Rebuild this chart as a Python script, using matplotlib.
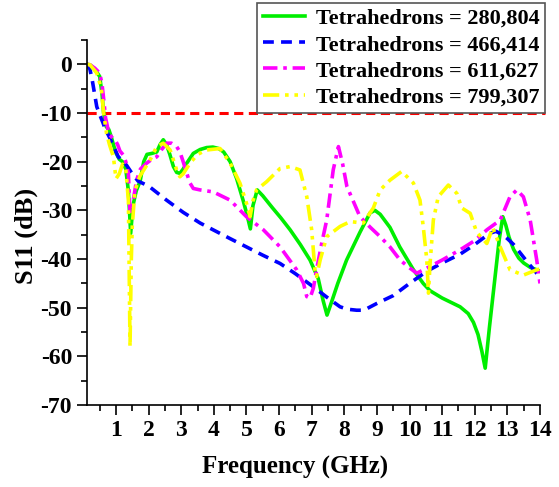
import matplotlib
matplotlib.use("Agg")
import matplotlib.pyplot as plt
from matplotlib.ticker import MultipleLocator

plt.rcParams['font.family'] = ['Liberation Serif', 'DejaVu Serif']
plt.rcParams['font.weight'] = 'bold'
plt.rcParams['axes.unicode_minus'] = False

# S11 curves (frequency in GHz, S11 in dB)
f_280 = [0.1, 0.2, 0.35, 0.5, 0.57, 0.62, 0.7, 0.78, 0.86, 0.92, 1.0, 1.1, 1.2, 1.3, 1.38,
         1.45, 1.52, 1.62, 1.74, 1.85, 1.95, 2.1, 2.25, 2.35, 2.45, 2.55, 2.65, 2.76, 2.86,
         2.96, 3.06, 3.17, 3.37, 3.58, 3.78, 3.97, 4.15, 4.3, 4.5, 4.7, 4.9, 5.02, 5.12, 5.2,
         5.33, 5.5, 5.8, 6.05, 6.34, 6.65, 6.95, 7.2, 7.35, 7.47, 7.6, 7.8, 8.07, 8.48, 8.79,
         8.94, 9.1, 9.4, 9.7, 10.12, 10.42, 10.63, 11.0, 11.55, 11.8, 11.96, 12.1, 12.22,
         12.32, 12.45, 12.6, 12.75, 12.86, 12.95, 13.05, 13.19, 13.35, 13.5, 13.7, 13.9, 14.0]
s_280 = [0, -0.1, -1.0, -2.5, -6, -10, -12.8, -13.4, -15, -16.5, -18.2, -19.5, -20, -21.5, -26,
         -34.7, -29, -26, -24, -20, -18.5, -18.3, -18.0, -16.5, -15.5, -16.5, -18.5, -21, -22.2,
         -22.4, -21.5, -20.3, -18.3, -17.5, -17.1, -17.0, -17.3, -18, -20, -23.5, -28, -31, -33.8, -29,
         -25.8, -27, -29.5, -31.5, -34, -37, -40.2, -44, -48.5, -51.5, -49, -45, -40.2, -34.5, -30.5,
         -30.0, -30.8, -33.5, -37.5, -42.2, -45, -46.5, -48, -49.8, -51.2, -53, -55.5, -59,
         -62.4, -54, -45, -36, -31.3, -33, -35.5, -38, -39.8, -40.8, -41.7, -42.2, -42.5]

f_466 = [0.1, 0.2, 0.27, 0.41, 0.51, 0.6, 0.66, 0.8, 0.92, 1.07, 1.2, 1.33, 1.5, 1.68, 2.0,
         2.55, 3.06, 3.58, 3.98, 4.5, 5.0, 5.5, 6.03, 6.5, 7.05, 7.5, 7.87, 8.1, 8.38, 8.6,
         9.0, 9.5, 10.0, 10.53, 11.0, 11.55, 12.0, 12.46, 12.65, 12.85, 13.0, 13.19, 13.4,
         13.6, 13.9, 14.0]
s_466 = [0, -1, -3.2, -8.7, -10.5, -12, -13.1, -15, -16.8, -19, -19.8, -20.8, -22.5, -24, -25,
         -27.9, -30.4, -32.6, -34, -35.8, -37.5, -39.2, -40.9, -43, -45.7, -48, -49.8, -50.3, -50.5, -50.5,
         -49.1, -47.5, -45, -42.5, -40.8, -39, -37, -34.7, -34.3, -35, -35.8, -37, -38.8,
         -40.5, -42.9, -43.4]

f_611 = [0.1, 0.2, 0.35, 0.5, 0.57, 0.62, 0.68, 0.76, 0.81, 0.9, 0.97, 1.05, 1.12, 1.22, 1.3,
         1.38, 1.43, 1.48, 1.53, 1.63, 1.75, 1.94, 2.1, 2.25, 2.4, 2.55, 2.7, 2.86, 2.96, 3.06,
         3.17, 3.27, 3.37, 3.58, 3.98, 4.5, 5.0, 5.52, 6.03, 6.54, 6.75, 6.85, 6.95, 7.05, 7.15,
         7.3, 7.46, 7.66, 7.82, 7.95, 8.08, 8.3, 8.48, 8.8, 9.1, 9.4, 9.71, 10.0, 10.22, 10.4,
         10.63, 11.0, 11.55, 12.0, 12.37, 12.78, 13.08, 13.29, 13.49, 13.7, 13.9, 14.0]
s_611 = [0, -0.1, -0.8, -1.8, -4, -7, -11, -13.5, -14.5, -15.2, -15.5, -16.5, -17.8, -18.6, -20,
         -22.4, -30.6, -29.5, -27.9, -23.8, -21.5, -20.3, -19.5, -19, -17.5, -16.2, -16.2, -16.9, -18, -20,
         -22.4, -24.4, -25.5, -25.8, -26.2, -27.9, -31.3, -34, -37.5, -42.2, -45, -47.7, -48, -46, -42.2,
         -37, -32, -21.7, -16.9, -20.5, -25.1, -28.5, -31.3, -33.5, -35.4, -37.5, -40.2, -41.8, -42.9, -42.3,
         -41.5, -40.2, -38.1, -36.2, -34, -32, -27.2, -25.8, -27.2, -32, -40.2, -45]

f_799 = [0.1, 0.2, 0.41, 0.55, 0.62, 0.71, 0.8, 0.92, 1.0, 1.1, 1.2, 1.3, 1.38, 1.43, 1.47,
         1.5, 1.58, 1.73, 2.04, 2.25, 2.45, 2.66, 2.86, 2.96, 3.06, 3.27, 3.5, 3.78, 4.19, 4.5,
         4.8, 5.0, 5.11, 5.2, 5.31, 5.62, 6.03, 6.34, 6.64, 6.85, 7.0, 7.1, 7.15, 7.26, 7.46,
         7.87, 8.18, 8.58, 8.89, 9.1, 9.4, 9.76, 10.12, 10.32, 10.42, 10.53, 10.58, 10.63,
         10.73, 10.88, 11.19, 11.45, 11.6, 11.86, 12.06, 12.37, 12.55, 12.78, 13.08, 13.49,
         13.9, 14.0]
s_799 = [0, -0.1, -1.8, -5, -10, -14.2, -16.5, -19, -23.5, -22.5, -20.5, -21.5, -28, -58, -40,
         -33, -26, -23, -19.7, -16.9, -16.2, -17.6, -21.7, -23.1, -22.5, -20.3, -18.5, -17.6, -17.3, -20.3,
         -24.4, -28.5, -31.3, -28, -25.8, -24.1, -21.4, -21, -21.7, -27.2, -34, -42.2, -43.6, -40.2, -35.4,
         -33.3, -32.3, -32.6, -29.5, -25.8, -23.8, -22, -24.4, -27.9, -33.3, -40.2, -47, -40.9,
         -32, -27.2, -24.8, -26.5, -29.5, -30.6, -34.5, -36.8, -33.5, -37.5, -42.2, -43.3,
         -42.2, -42]

labels = ['Tetrahedrons = 280,804', 'Tetrahedrons = 466,414',
          'Tetrahedrons = 611,627', 'Tetrahedrons = 799,307']

fig = plt.figure(figsize=(5.59, 4.87), dpi=100)
ax = fig.add_axes([0.155, 0.168, 0.811, 0.750])

ax.axhline(-10, color='red', lw=2.2, ls=(0, (3, 1.8)), xmax=1.01, clip_on=False)

ax.plot(f_280, s_280, color='#00ee00', lw=2.6, ls='-', label=labels[0])
ax.plot(f_466, s_466, color='#0000ff', lw=2.6, ls=(0, (3, 2)), label=labels[1])
ax.plot(f_611, s_611, color='#ff00ff', lw=2.6, ls=(0, (4, 1.6, 1, 1.6)), label=labels[2])
ax.plot(f_799, s_799, color='#ffff00', lw=2.6, ls=(0, (4.5, 1.6, 1, 1.6, 1, 1.6)), label=labels[3])

ax.set_xlim(0.1, 14)
ax.set_ylim(-70, 5)
ax.xaxis.set_minor_locator(MultipleLocator(0.5))
ax.yaxis.set_minor_locator(MultipleLocator(5))
ax.set_xticks(range(1, 15))
ax.set_yticks(range(-70, 1, 10))
ax.tick_params(which='major', direction='out', length=7, width=1.2, labelsize=17)
ax.tick_params(which='minor', direction='out', length=4, width=1.2)
ax.spines['top'].set_visible(False)
ax.spines['right'].set_visible(False)
ax.spines['left'].set_linewidth(1.2)
ax.spines['bottom'].set_linewidth(1.2)

ax.set_xlabel('Frequency (GHz)', fontsize=18, fontweight='bold')
ax.set_ylabel('S11 (dB)', fontsize=19, fontweight='bold')
ax.xaxis.set_label_coords(0.46, -0.138)
ax.yaxis.set_label_coords(-0.108, 0.463)

leg = fig.legend(loc='upper right', bbox_to_anchor=(0.975, 0.994), fontsize=16,
                 frameon=True, fancybox=False, edgecolor='#555555', framealpha=1,
                 handlelength=1.9, labelspacing=0.25, borderpad=0.25, handletextpad=0.5,
                 borderaxespad=0)
leg.get_frame().set_linewidth(1.2)

fig.savefig('out.png', dpi=100)
